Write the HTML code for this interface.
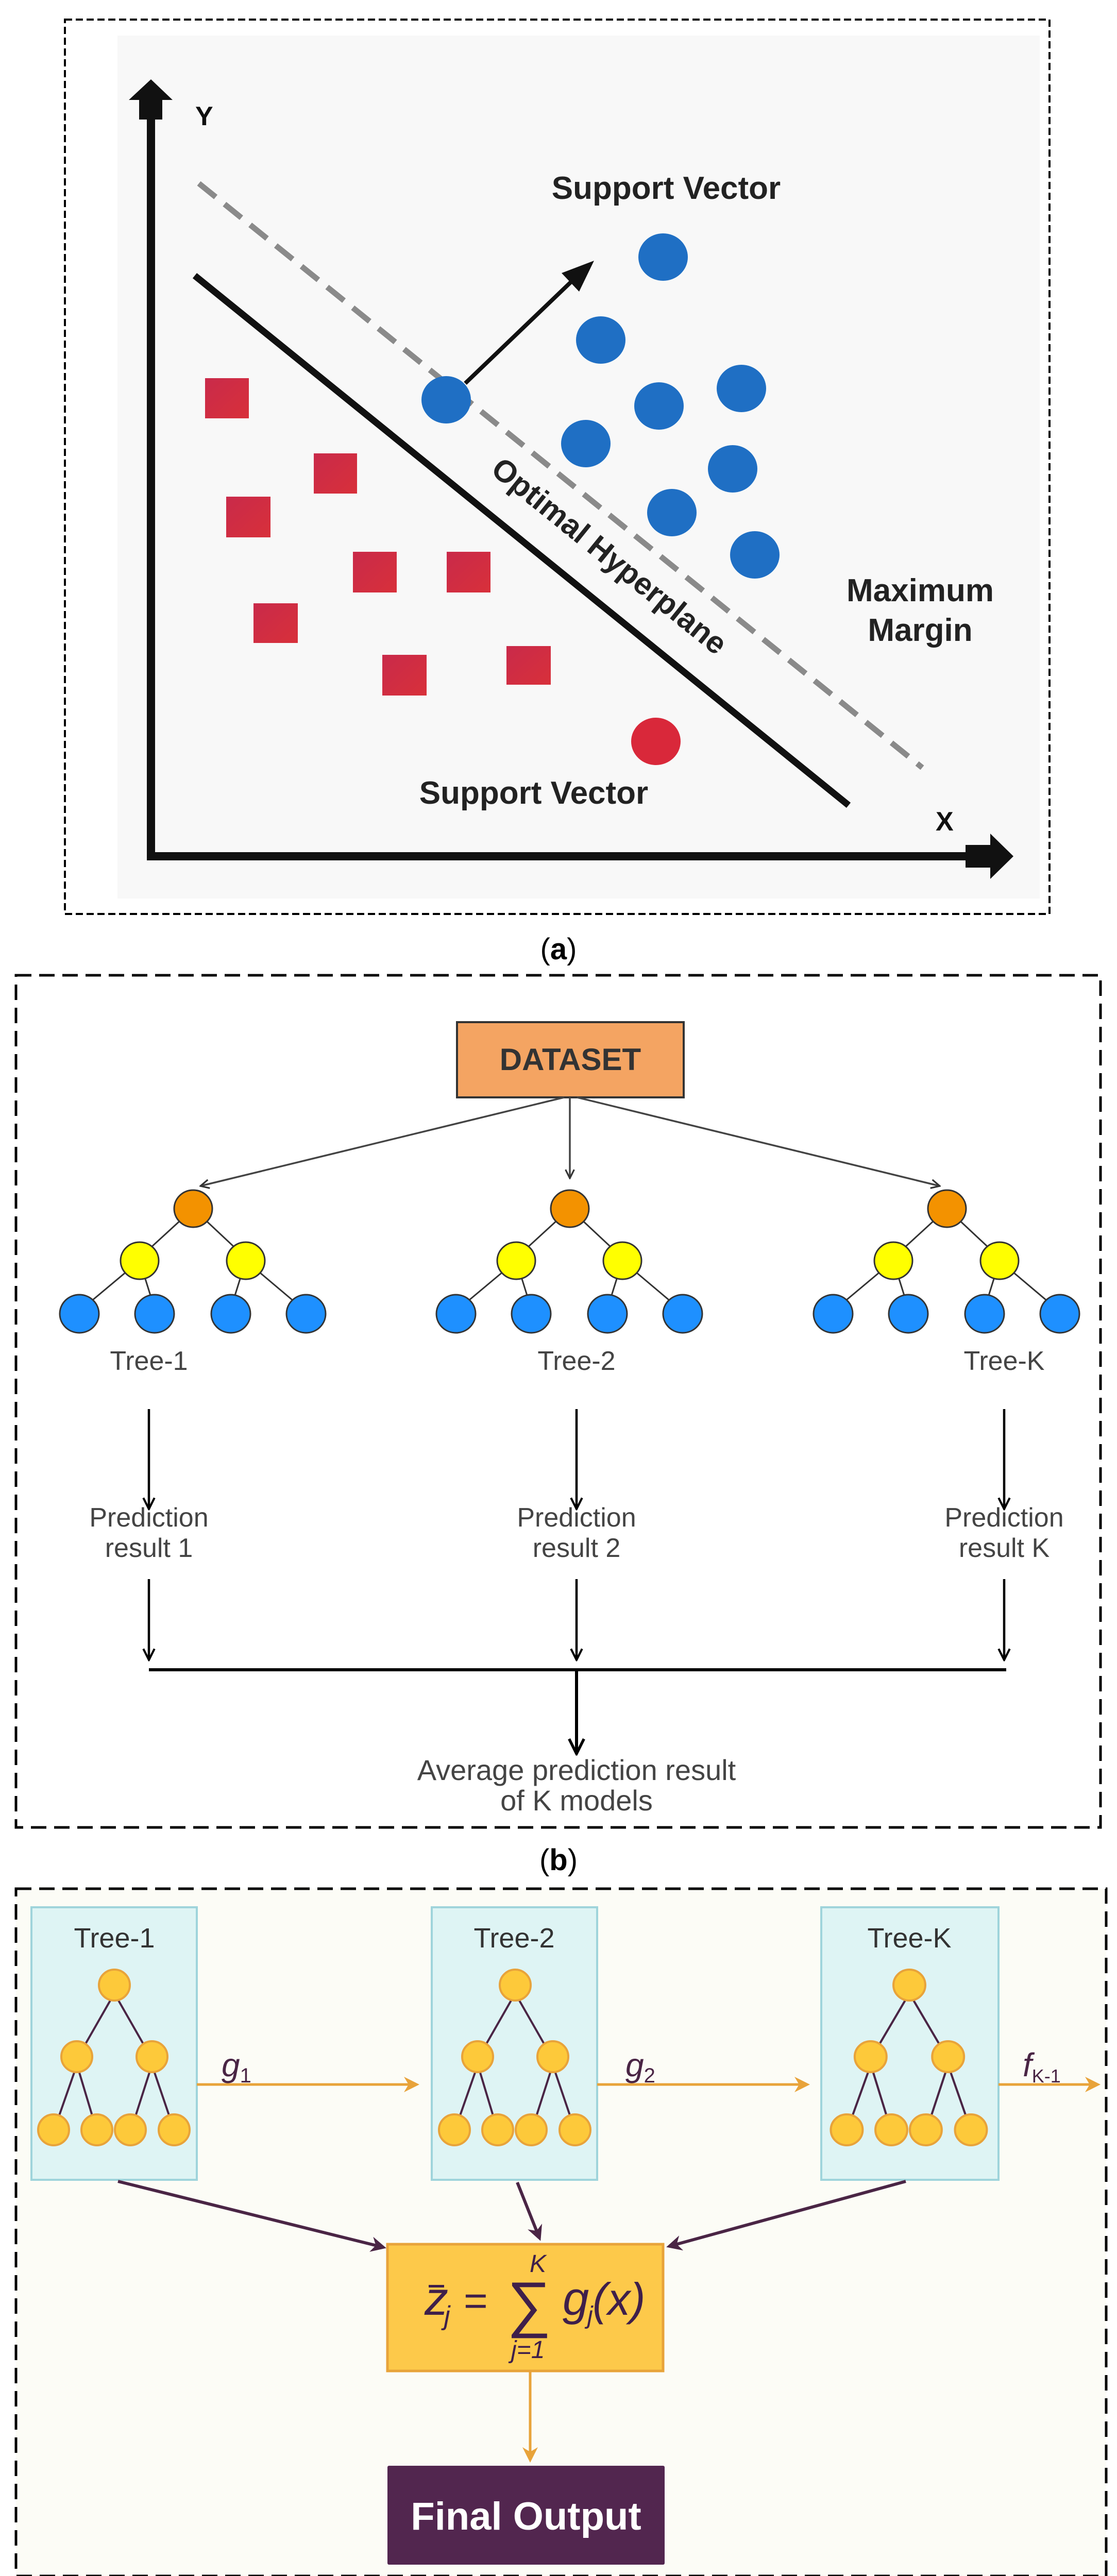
<!DOCTYPE html>
<html><head><meta charset="utf-8"><style>
html,body{margin:0;padding:0;background:#fff;width:2168px;height:5130px;overflow:hidden}
svg{display:block}
text{font-family:"Liberation Sans",sans-serif}
</style></head><body>
<svg width="2168" height="5130" viewBox="0 0 2168 5130" xmlns="http://www.w3.org/2000/svg">
<defs>
<marker id="as" viewBox="0 0 10 10" refX="9" refY="5" markerWidth="6" markerHeight="6" orient="auto" markerUnits="strokeWidth"><path d="M1,1 L9,5 L1,9" fill="none" stroke="#333" stroke-width="1.5"/></marker>
<marker id="ak" viewBox="0 0 10 10" refX="9" refY="5" markerWidth="6" markerHeight="6" orient="auto" markerUnits="strokeWidth"><path d="M1,1 L9,5 L1,9" fill="none" stroke="#000" stroke-width="1.5"/></marker>
<marker id="ap" viewBox="0 0 10 10" refX="8" refY="5" markerWidth="5" markerHeight="5" orient="auto" markerUnits="strokeWidth"><path d="M0,0 L10,5 L0,10 L3,5 Z" fill="#4a2545"/></marker>
<marker id="ap2" viewBox="0 0 10 10" refX="8" refY="5" markerWidth="4" markerHeight="4" orient="auto" markerUnits="strokeWidth"><path d="M0,0 L10,5 L0,10 L3,5 Z" fill="#4a2545"/></marker>
<marker id="ao" viewBox="0 0 10 10" refX="8" refY="5" markerWidth="6" markerHeight="6" orient="auto" markerUnits="strokeWidth"><path d="M0,0 L10,5 L0,10 L3,5 Z" fill="#e8a33a"/></marker>
<linearGradient id="rg" x1="0" y1="0" x2="1" y2="1"><stop offset="0" stop-color="#c92a4a"/><stop offset="1" stop-color="#d8303a"/></linearGradient>
<g id="tb">
<g stroke="#333" stroke-width="3" fill="none">
<line x1="0" y1="0" x2="-96" y2="88" marker-end="url(#as)"/>
<line x1="0" y1="0" x2="94" y2="88" marker-end="url(#as)"/>
<line x1="-104" y1="101" x2="-214" y2="193" marker-end="url(#as)"/>
<line x1="-104" y1="101" x2="-75" y2="194" marker-end="url(#as)"/>
<line x1="102" y1="101" x2="73" y2="194" marker-end="url(#as)"/>
<line x1="102" y1="101" x2="211" y2="193" marker-end="url(#as)"/>
</g>
<ellipse cx="0" cy="0" rx="37" ry="36" fill="#f39200" stroke="#333" stroke-width="3"/>
<ellipse cx="-104" cy="101" rx="37" ry="36" fill="#ffff00" stroke="#333" stroke-width="3"/>
<ellipse cx="102" cy="101" rx="37" ry="36" fill="#ffff00" stroke="#333" stroke-width="3"/>
<g fill="#1e90ff" stroke="#333" stroke-width="3">
<ellipse cx="-221" cy="204" rx="38" ry="37"/>
<ellipse cx="-75" cy="204" rx="38" ry="37"/>
<ellipse cx="73" cy="204" rx="38" ry="37"/>
<ellipse cx="219" cy="204" rx="38" ry="37"/>
</g>
</g>
<g id="tc">
<g stroke="#4a2545" stroke-width="4" fill="none">
<line x1="-8" y1="30" x2="-64" y2="128" marker-end="url(#ap2)"/>
<line x1="8" y1="30" x2="64" y2="128" marker-end="url(#ap2)"/>
<line x1="-78" y1="170" x2="-113" y2="270" marker-end="url(#ap2)"/>
<line x1="-68" y1="170" x2="-38" y2="270" marker-end="url(#ap2)"/>
<line x1="68" y1="170" x2="36" y2="270" marker-end="url(#ap2)"/>
<line x1="78" y1="170" x2="112" y2="270" marker-end="url(#ap2)"/>
</g>
<g fill="#fdc93a" stroke="#e8a33a" stroke-width="4">
<circle cx="0" cy="0" r="30"/>
<circle cx="-73" cy="139" r="30"/>
<circle cx="73" cy="139" r="30"/>
<circle cx="-118" cy="281" r="30"/>
<circle cx="-34" cy="281" r="30"/>
<circle cx="31" cy="281" r="30"/>
<circle cx="116" cy="281" r="30"/>
</g>
</g>
</defs>

<!-- Panel a -->
<rect x="228" y="69" width="1790" height="1675" fill="#f8f8f8"/>
<rect x="126" y="38" width="1911" height="1736" fill="none" stroke="#000" stroke-width="4" stroke-dasharray="14,7"/>
<line x1="293" y1="225" x2="293" y2="1670" stroke="#111" stroke-width="16"/>
<polygon points="293,154 250,194 270,194 270,232 315,232 315,194 335,194" fill="#111"/>
<line x1="285" y1="1662" x2="1880" y2="1662" stroke="#111" stroke-width="16"/>
<polygon points="1967,1662 1922,1618 1922,1640 1874,1640 1874,1684 1922,1684 1922,1706" fill="#111"/>
<text x="379" y="243" font-family="Liberation Serif" font-weight="bold" font-size="52" fill="#111">Y</text>
<text x="1816" y="1612" font-family="Liberation Serif" font-weight="bold" font-size="52" fill="#111">X</text>
<line x1="386" y1="356" x2="1790" y2="1490" stroke="#8a8a8a" stroke-width="11" stroke-dasharray="42,22"/>
<line x1="378" y1="535" x2="1647" y2="1563" stroke="#111" stroke-width="13"/>
<line x1="903" y1="744" x2="1120" y2="536" stroke="#111" stroke-width="8"/>
<polygon points="1153,506 1090,530 1124,566" fill="#111"/>
<g fill="#1f6fc4">
<ellipse cx="1287" cy="499" rx="48" ry="46"/>
<ellipse cx="1166" cy="660" rx="48" ry="46"/>
<ellipse cx="866" cy="776" rx="48" ry="46"/>
<ellipse cx="1279" cy="788" rx="48" ry="46"/>
<ellipse cx="1439" cy="754" rx="48" ry="46"/>
<ellipse cx="1137" cy="861" rx="48" ry="46"/>
<ellipse cx="1422" cy="910" rx="48" ry="46"/>
<ellipse cx="1304" cy="995" rx="48" ry="46"/>
<ellipse cx="1465" cy="1077" rx="48" ry="46"/>
</g>
<g fill="url(#rg)">
<rect x="398" y="734" width="85" height="78"/>
<rect x="609" y="880" width="84" height="78"/>
<rect x="439" y="964" width="86" height="79"/>
<rect x="685" y="1071" width="85" height="79"/>
<rect x="867" y="1071" width="85" height="79"/>
<rect x="492" y="1171" width="86" height="77"/>
<rect x="742" y="1271" width="86" height="79"/>
<rect x="983" y="1254" width="86" height="75"/>
</g>
<ellipse cx="1273" cy="1439" rx="48" ry="46" fill="#d9283a"/>
<g font-weight="bold" font-size="62" fill="#222" text-anchor="middle">
<text x="1293" y="386">Support Vector</text>
<text x="1036" y="1560">Support Vector</text>
<text x="1786" y="1167">Maximum</text>
<text x="1786" y="1244">Margin</text>
<text x="1170" y="1095" transform="rotate(39 1170 1095)" font-size="60">Optimal Hyperplane</text>
</g>
<text x="1084" y="1862" text-anchor="middle" font-family="Liberation Serif" font-size="58" fill="#000">(<tspan font-weight="bold">a</tspan>)</text>

<!-- Panel b -->
<rect x="31" y="1893" width="2105" height="1654" fill="none" stroke="#000" stroke-width="5" stroke-dasharray="30,15"/>
<rect x="887" y="1984" width="440" height="146" fill="#f4a462" stroke="#333" stroke-width="4"/>
<text x="1107" y="2077" text-anchor="middle" font-weight="bold" font-size="60" fill="#333">DATASET</text>
<g stroke="#444" stroke-width="3.5" fill="none">
<line x1="1095" y1="2130" x2="389" y2="2302" marker-end="url(#as)"/>
<line x1="1106" y1="2130" x2="1106" y2="2287" marker-end="url(#as)"/>
<line x1="1120" y1="2130" x2="1824" y2="2302" marker-end="url(#as)"/>
</g>
<use href="#tb" transform="translate(375 2346)"/>
<use href="#tb" transform="translate(1106 2346)"/>
<use href="#tb" transform="translate(1838 2346)"/>
<g font-size="52" fill="#444" text-anchor="middle">
<text x="289" y="2659">Tree-1</text>
<text x="1119" y="2659">Tree-2</text>
<text x="1949" y="2659">Tree-K</text>
<text x="289" y="2963">Prediction</text><text x="289" y="3022">result 1</text>
<text x="1119" y="2963">Prediction</text><text x="1119" y="3022">result 2</text>
<text x="1949" y="2963">Prediction</text><text x="1949" y="3022">result K</text>
<text x="1119" y="3455" font-size="56">Average prediction result</text>
<text x="1119" y="3514" font-size="56">of K models</text>
</g>
<g stroke="#000" stroke-width="4.5" fill="none">
<line x1="289" y1="2735" x2="289" y2="2929" marker-end="url(#ak)"/>
<line x1="1119" y1="2735" x2="1119" y2="2929" marker-end="url(#ak)"/>
<line x1="1949" y1="2735" x2="1949" y2="2929" marker-end="url(#ak)"/>
<line x1="289" y1="3065" x2="289" y2="3222" marker-end="url(#ak)"/>
<line x1="1119" y1="3065" x2="1119" y2="3222" marker-end="url(#ak)"/>
<line x1="1949" y1="3065" x2="1949" y2="3222" marker-end="url(#ak)"/>
<line x1="289" y1="3241" x2="1953" y2="3241" stroke-width="6"/>
<line x1="1119" y1="3241" x2="1119" y2="3404" stroke-width="6" marker-end="url(#ak)"/>
</g>
<text x="1084" y="3630" text-anchor="middle" font-family="Liberation Serif" font-size="58" fill="#000">(<tspan font-weight="bold">b</tspan>)</text>

<!-- Panel c -->
<rect x="31" y="3666" width="2116" height="1334" fill="#fcfcf6" stroke="#000" stroke-width="5" stroke-dasharray="30,15"/>
<g fill="#def4f4" stroke="#9fd4db" stroke-width="4">
<rect x="61" y="3702" width="321" height="529"/>
<rect x="838" y="3702" width="321" height="529"/>
<rect x="1594" y="3702" width="344" height="529"/>
</g>
<g font-size="54" fill="#333" text-anchor="middle">
<text x="222" y="3780">Tree-1</text>
<text x="998" y="3780">Tree-2</text>
<text x="1765" y="3780">Tree-K</text>
</g>
<use href="#tc" transform="translate(222 3853)"/>
<use href="#tc" transform="translate(1000 3853)"/>
<use href="#tc" transform="translate(1765 3853) scale(1.03 1)"/>
<g stroke="#e8a33a" stroke-width="5" fill="none">
<line x1="382" y1="4046" x2="808" y2="4046" marker-end="url(#ao)"/>
<line x1="1159" y1="4046" x2="1566" y2="4046" marker-end="url(#ao)"/>
<line x1="1938" y1="4046" x2="2130" y2="4046" marker-end="url(#ao)"/>
<line x1="1029" y1="4602" x2="1029" y2="4774" marker-end="url(#ao)"/>
</g>
<g font-style="italic" font-size="64" fill="#4a2545">
<text x="430" y="4030">g<tspan font-size="40" dy="12" font-style="normal">1</tspan></text>
<text x="1214" y="4030">g<tspan font-size="40" dy="12" font-style="normal">2</tspan></text>
<text x="1985" y="4030">f<tspan font-size="36" dy="12" font-style="normal">K-1</tspan></text>
</g>
<g stroke="#4a2545" stroke-width="6" fill="none">
<line x1="229" y1="4234" x2="744" y2="4362" marker-end="url(#ap)"/>
<line x1="1004" y1="4236" x2="1047" y2="4344" marker-end="url(#ap)"/>
<line x1="1758" y1="4234" x2="1299" y2="4360" marker-end="url(#ap)"/>
</g>
<rect x="752" y="4356" width="535" height="246" fill="#fdc94a" stroke="#e8a33a" stroke-width="5"/>
<g fill="#3f1f4a" font-style="italic">
<text x="824" y="4493" font-size="92">z</text>
<rect x="832" y="4435" width="30" height="5"/>
<text x="862" y="4512" font-size="52">j</text>
<text x="900" y="4493" font-size="80" font-style="normal">=</text>
<text x="984" y="4513" font-size="120" font-style="normal">∑</text>
<text x="1028" y="4410" font-size="48">K</text>
<text x="992" y="4577" font-size="48">j=1</text>
<text x="1092" y="4493" font-size="92">g</text>
<text x="1140" y="4510" font-size="48">j</text>
<text x="1150" y="4493" font-size="88">(x)</text>
</g>
<rect x="752" y="4786" width="538" height="192" rx="3" fill="#52264f"/>
<text x="1021" y="4910" text-anchor="middle" font-weight="bold" font-size="76" fill="#fff">Final Output</text>
<text x="1084" y="5090" text-anchor="middle" font-family="Liberation Serif" font-size="58" fill="#000">(<tspan font-weight="bold">c</tspan>)</text>
</svg>
</body></html>
